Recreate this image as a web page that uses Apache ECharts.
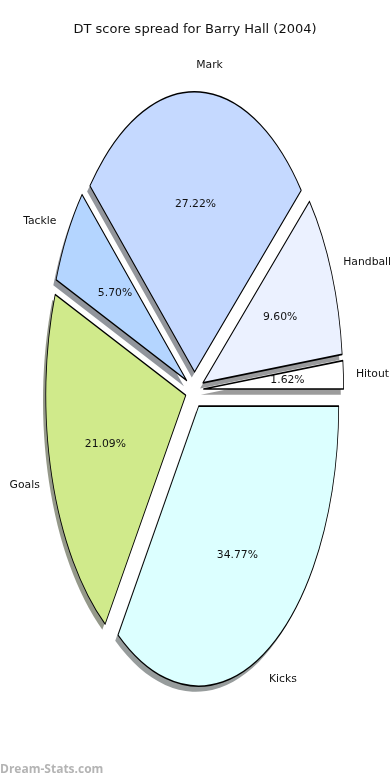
<!DOCTYPE html>
<html><head><meta charset="utf-8">
<script src="https://cdn.jsdelivr.net/npm/echarts@6/dist/echarts.min.js"></script>
<style>
html,body{margin:0;padding:0;background:#fff;}
#wrap{position:relative;width:390px;height:780px;overflow:hidden;background:#fff;}
#pie{position:absolute;left:0;top:195px;width:390px;height:390px;transform:scaleY(2);transform-origin:195px 195px;}
#lab{position:absolute;left:0;top:0;width:390px;height:780px;}
</style></head><body>
<div id="wrap"><div id="pie"></div><div id="lab"></div></div>
<script>
// ---- data ----
const titleText = 'DT score spread for Barry Hall (2004)';
const categories = ['Hitout', 'Handball', 'Mark', 'Tackle', 'Goals', 'Kicks'];
const shares = [1.62, 9.60, 27.22, 5.70, 21.09, 34.77];
const sliceColors = ['#ffffff', '#ebf1ff', '#c5d9ff', '#b4d5ff', '#d0ea8b', '#dcffff'];

// ---- geometry / style ----
const CX = 194.5, CY = 390, RX = 140, RY = 280, EXPLODE = 0.065;
const LABEL_DIST_X = 1.09, LABEL_DIST_Y = 1.098, PCT_DIST = 0.6;
const FONT = 'DejaVu Sans';

function shadowOf(hex) {
  const n = parseInt(hex.slice(1), 16);
  const c = [(n >> 16) & 255, (n >> 8) & 255, n & 255].map(v => Math.round(0.15 * v + 127.5 - 10));
  return 'rgb(' + c.join(',') + ')';
}

const pieChart = echarts.init(document.getElementById('pie'), null, {renderer: 'canvas', devicePixelRatio: 2});
const common = {
  type: 'pie', radius: RX, startAngle: 0, clockwise: false,
  selectedMode: 'multiple', selectedOffset: EXPLODE * RX,
  label: {show: false}, labelLine: {show: false},
  emphasis: {disabled: true}, animation: false, avoidLabelOverlap: false
};
pieChart.setOption({
  animation: false,
  series: [
    Object.assign({}, common, {
      z: 1,
      center: [CX - 0.02 * RX, RX + 0.02 * RX + 55],
      data: categories.map((c, i) => ({
        name: c, value: shares[i], selected: true,
        itemStyle: {color: shadowOf(sliceColors[i]), borderWidth: 0}
      }))
    }),
    Object.assign({}, common, {
      z: 2,
      center: [CX, RX + 55],
      data: categories.map((c, i) => ({
        name: c, value: shares[i], selected: true,
        itemStyle: {color: sliceColors[i], borderColor: '#000', borderWidth: 0.8}
      }))
    })
  ]
});

// ---- labels overlay ----
const total = shares.reduce((a, b) => a + b, 0);
let cum = 0;
const graphics = [];
categories.forEach((c, i) => {
  const frac = shares[i] / total;
  const tm = 2 * Math.PI * (cum + frac / 2);
  cum += frac;
  const co = Math.cos(tm), si = Math.sin(tm);
  const lx = CX + (EXPLODE + LABEL_DIST_X) * RX * co, ly = CY - (EXPLODE + LABEL_DIST_Y) * RY * si;
  const px = CX + (EXPLODE + PCT_DIST) * RX * co, py = CY - (EXPLODE + PCT_DIST) * RY * si;
  graphics.push({type: 'text', x: lx, y: ly + 0.5, style: {text: c, fontFamily: FONT, fontSize: 10.8, fill: '#111',
    textAlign: co > 0 ? 'left' : 'right', textVerticalAlign: 'middle'}});
  graphics.push({type: 'text', x: px, y: py, style: {text: (100 * frac).toFixed(2) + '%', fontFamily: FONT, fontSize: 10.8, fill: '#111',
    textAlign: 'center', textVerticalAlign: 'middle'}});
});
graphics.push({type: 'text', x: 195, y: 30, style: {text: titleText, fontFamily: FONT, fontSize: 13, fill: '#111', textAlign: 'center', textVerticalAlign: 'middle'}});
graphics.push({type: 'text', x: 0, y: 770, style: {text: 'Dream-Stats.com', fontFamily: 'Open Sans', fontWeight: 'bold', fontSize: 12, fill: '#b4b4b4', textAlign: 'left', textVerticalAlign: 'middle'}});

const labChart = echarts.init(document.getElementById('lab'), null, {renderer: 'canvas'});
labChart.setOption({animation: false, graphic: graphics});
</script>
</body></html>
